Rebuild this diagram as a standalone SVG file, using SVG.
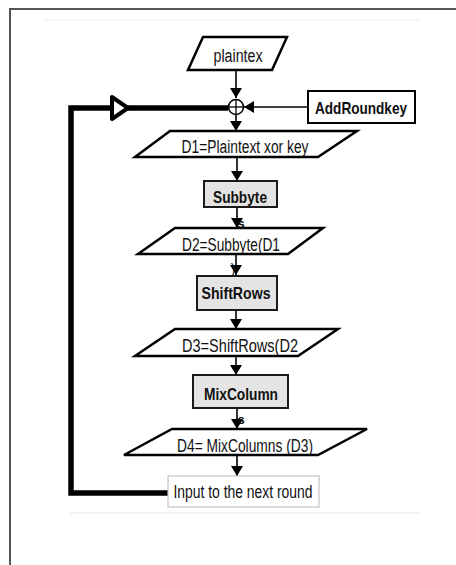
<svg xmlns="http://www.w3.org/2000/svg" width="456" height="565" viewBox="0 0 456 565">
<defs>
<marker id="ah" viewBox="0 0 10 12" refX="10" refY="6" markerWidth="10" markerHeight="12" markerUnits="userSpaceOnUse" orient="auto">
<path d="M0,0 L10,6 L0,12 Z" fill="#000"/>
</marker>
<style>
.t{font-family:"Liberation Sans",Arial,sans-serif;font-size:18px;fill:#111;text-anchor:middle}
.b{font-weight:bold;font-size:17px}
.para{fill:#fff;stroke:#000;stroke-width:2.5}
.box{fill:#e4e4e4;stroke:#1a1a1a;stroke-width:2}
.c{stroke:#000;stroke-width:1.6;fill:none}
.thick{stroke:#000;stroke-width:5.5;fill:none}
</style>
</defs>
<rect x="0" y="0" width="456" height="565" fill="#fff"/>
<rect x="10" y="9" width="460" height="570" fill="none" stroke="#555" stroke-width="2"/>
<line x1="45" y1="20" x2="420" y2="20" stroke="#f6f6f6" stroke-width="2"/>
<line x1="70" y1="513" x2="420" y2="513" stroke="#eeeeee" stroke-width="1.5"/>

<g id="connectors">
<line class="c" x1="236" y1="70" x2="236" y2="98" marker-end="url(#ah)"/>
<line class="c" x1="308" y1="107" x2="244" y2="107" marker-end="url(#ah)"/>
<line class="c" x1="236" y1="115" x2="236" y2="131" marker-end="url(#ah)"/>
<line class="c" x1="237" y1="157" x2="237" y2="181" marker-end="url(#ah)"/>
<line class="c" x1="237" y1="207" x2="237" y2="228" marker-end="url(#ah)"/>
<line class="c" x1="236" y1="254" x2="236" y2="275" marker-end="url(#ah)"/>
<line class="c" x1="236" y1="310" x2="236" y2="329" marker-end="url(#ah)"/>
<line class="c" x1="236" y1="356" x2="236" y2="375" marker-end="url(#ah)"/>
<line class="c" x1="237" y1="408" x2="237" y2="429" marker-end="url(#ah)"/>
<line class="c" x1="237" y1="455" x2="237" y2="476" marker-end="url(#ah)"/>
<polyline class="thick" points="168,493 71,493 71,108 228,108"/>
<polygon points="112,97 112,119 128,108" fill="#fff" stroke="#000" stroke-width="4" stroke-linejoin="round"/>
<text class="t b" x="241" y="228" style="font-size:13px">s</text>
<text class="t" x="233" y="274" style="font-size:14px">)</text>
<text class="t b" x="241" y="424" style="font-size:13px">s</text>
</g>

<g id="plaintex">
<polygon class="para" points="203,37 287,37 272,70 188,70"/>
<text class="t" x="238" y="62" textLength="49" lengthAdjust="spacingAndGlyphs">plaintex</text>
</g>

<g id="xor">
<circle cx="236" cy="107" r="7.5" fill="#fff" stroke="#000" stroke-width="1.6"/>
<line x1="228.5" y1="107" x2="243.5" y2="107" stroke="#000" stroke-width="1.3"/>
<line x1="236" y1="99.5" x2="236" y2="114.5" stroke="#000" stroke-width="1.3"/>
</g>

<g id="addroundkey">
<rect x="308" y="91" width="107" height="32" fill="#fff" stroke="#000" stroke-width="2"/>
<text class="t b" x="361" y="114" textLength="92" lengthAdjust="spacingAndGlyphs">AddRoundkey</text>
</g>

<g id="d1">
<polygon class="para" points="170,131 357,131 318,157 135,157"/>
<text class="t" x="245" y="153" textLength="127" lengthAdjust="spacingAndGlyphs">D1=Plaintext xor key</text>
</g>

<g id="subbyte">
<rect class="box" x="204" y="181" width="73" height="26"/>
<text class="t b" x="240" y="203" textLength="54" lengthAdjust="spacingAndGlyphs">Subbyte</text>
</g>

<g id="d2">
<polygon class="para" points="175,228 323,228 288,254 138,254"/>
<text class="t" x="231" y="251" textLength="98" lengthAdjust="spacingAndGlyphs">D2=Subbyte(D1</text>
</g>

<g id="shiftrows">
<rect class="box" x="197" y="276" width="80" height="34"/>
<text class="t b" x="236" y="299" textLength="69" lengthAdjust="spacingAndGlyphs">ShiftRows</text>
</g>

<g id="d3">
<polygon class="para" points="175,329 338,329 298,356 135,356"/>
<text class="t" x="240" y="352" textLength="116" lengthAdjust="spacingAndGlyphs">D3=ShiftRows(D2</text>
</g>

<g id="mixcolumn">
<rect class="box" x="193" y="375" width="95" height="33"/>
<text class="t b" x="241" y="400" textLength="74" lengthAdjust="spacingAndGlyphs">MixColumn</text>
</g>

<g id="d4">
<polygon class="para" points="172,429 367,429 318,455 124,455"/>
<text class="t" x="245" y="452" textLength="136" lengthAdjust="spacingAndGlyphs">D4= MixColumns (D3)</text>
</g>

<g id="nextround">
<rect x="168" y="476" width="151" height="31" fill="#fff" stroke="#c4c4c4" stroke-width="1.2"/>
<text class="t" x="243" y="498" textLength="139" lengthAdjust="spacingAndGlyphs">Input to the next round</text>
</g>
</svg>
